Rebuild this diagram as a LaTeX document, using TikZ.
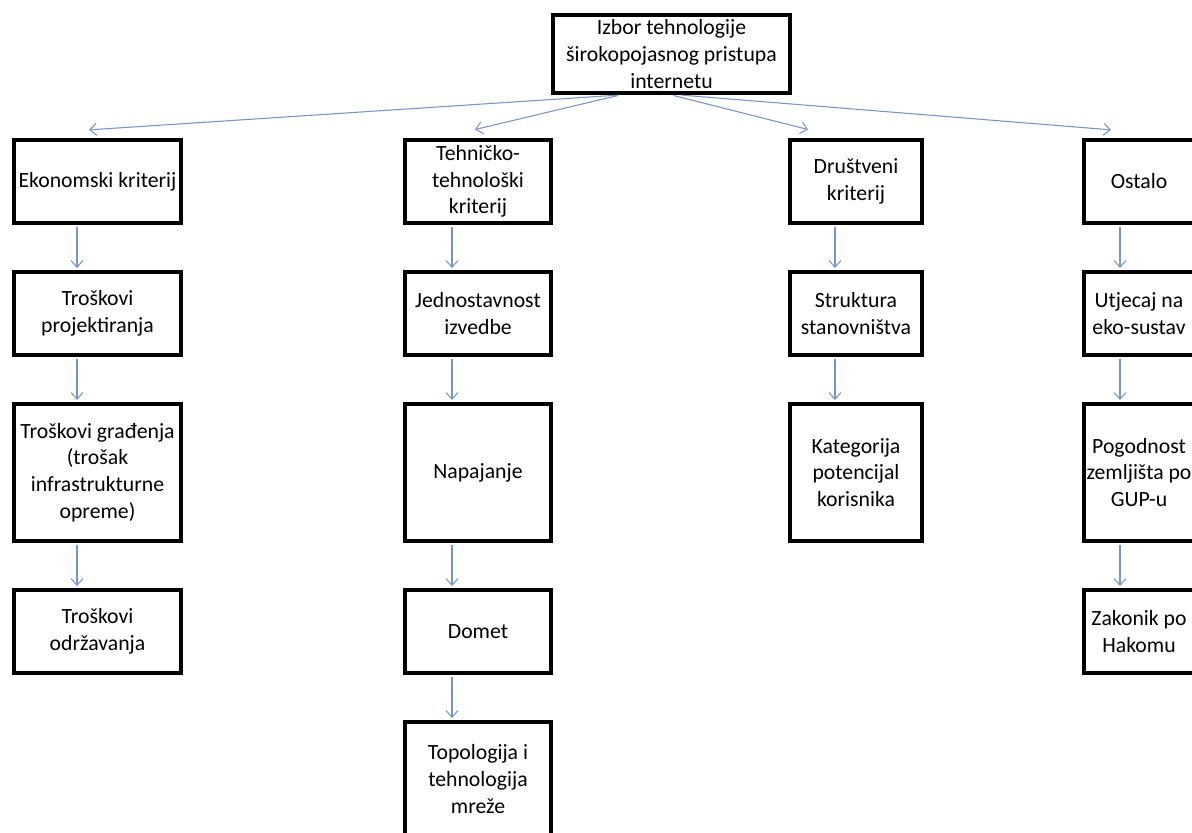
\documentclass[tikz,border=0pt]{standalone}
\usepackage{fontspec}
\setmainfont{Carlito}
\usetikzlibrary{arrows.meta}
\definecolor{linkblue}{RGB}{118,150,200}

\begin{document}
\begin{tikzpicture}[x=0.75pt, y=-0.75pt, >={Straight Barb[length=5pt,width=9pt]},
    box/.style={draw, line width=3pt, align=center, inner sep=1pt,
        font=\fontsize{16.3}{20}\selectfont},
    short/.style={box, minimum height=62.25pt},
    tall/.style={box, minimum height=102.75pt},
    link/.style={->, linkblue, line width=0.8pt, shorten <=1.5pt, shorten >=1.5pt}]
    \useasboundingbox (0,0) rectangle (1192,832);
    \clip (0,0) rectangle (1192,832);
    \fill[white] (0,0) rectangle (1192,832);

    % root of the tree
    \node[box, minimum width=177.75pt, minimum height=58.5pt] (root) at (671.5,54)
        {Izbor tehnologije\\širokopojasnog pristupa\\internetu};

    % economic column
    \node[short, minimum width=125.25pt] (ekon) at (97.5,181.5) {Ekonomski kriterij};
    \node[short, minimum width=125.25pt] (trpro) at (97.5,313.5) {Troškovi\\projektiranja};
    \node[tall, minimum width=125.25pt] (trgrad) at (97.5,472.5)
        {Troškovi građenja\\(trošak\\infrastrukturne\\opreme)};
    \node[short, minimum width=125.25pt] (trodr) at (97.5,631.5) {Troškovi\\održavanja};

    % technical column
    \node[short, minimum width=109.5pt] (teh) at (478,181.5) {Tehničko-\\tehnološki\\kriterij};
    \node[short, minimum width=109.5pt] (jedn) at (478,313.5) {Jednostavnost\\izvedbe};
    \node[tall, minimum width=109.5pt] (napaj) at (478,472.5) {Napajanje};
    \node[short, minimum width=109.5pt] (domet) at (478,631.5) {Domet};
    \node[box, minimum width=109.5pt, minimum height=85.5pt] (topo) at (478,779)
        {Topologija i\\tehnologija\\mreže};

    % social column
    \node[short, minimum width=99pt] (drus) at (856,181.5) {Društveni\\kriterij};
    \node[short, minimum width=99pt] (strukt) at (856,313.5) {Struktura\\stanovništva};
    \node[tall, minimum width=99pt] (kateg) at (856,472.5) {Kategorija\\potencijal\\korisnika};

    % other column
    \node[short, minimum width=82.5pt] (ostalo) at (1139,181.5) {Ostalo};
    \node[short, minimum width=82.5pt] (utjec) at (1139,313.5) {Utjecaj na\\eko-sustav};
    \node[tall, minimum width=82.5pt] (pogod) at (1139,472.5) {Pogodnost\\zemljišta po\\GUP-u};
    \node[short, minimum width=82.5pt] (zakon) at (1139,631.5) {Zakonik po\\Hakomu};

    % links from the root
    \draw[link] ([xshift=-38.6pt]root.south) -- ([xshift=-7.9pt,yshift=6pt]ekon.north);
    \draw[link] ([xshift=-38.6pt]root.south) -- ([xshift=-3.75pt,yshift=6pt]teh.north);
    \draw[link] (root.south) -- ([xshift=-34.5pt,yshift=6pt]drus.north);
    \draw[link] ([xshift=6.4pt]root.south) -- ([xshift=-19.5pt,yshift=6pt]ostalo.north);

    % links down the columns
    \draw[link] ([xshift=-15.4pt]ekon.south) -- ([xshift=-15.4pt]trpro.north);
    \draw[link] ([xshift=-15.4pt]trpro.south) -- ([xshift=-15.4pt]trgrad.north);
    \draw[link] ([xshift=-15.4pt]trgrad.south) -- ([xshift=-15.4pt]trodr.north);
    \draw[link] ([xshift=-19.5pt]teh.south) -- ([xshift=-19.5pt]jedn.north);
    \draw[link] ([xshift=-19.5pt]jedn.south) -- ([xshift=-19.5pt]napaj.north);
    \draw[link] ([xshift=-19.5pt]napaj.south) -- ([xshift=-19.5pt]domet.north);
    \draw[link] ([xshift=-19.5pt]domet.south) -- ([xshift=-19.5pt]topo.north);
    \draw[link] ([xshift=-15.75pt]drus.south) -- ([xshift=-15.75pt]strukt.north);
    \draw[link] ([xshift=-15.75pt]strukt.south) -- ([xshift=-15.75pt]kateg.north);
    \draw[link] ([xshift=-14.25pt]ostalo.south) -- ([xshift=-14.25pt]utjec.north);
    \draw[link] ([xshift=-14.25pt]utjec.south) -- ([xshift=-14.25pt]pogod.north);
    \draw[link] ([xshift=-14.25pt]pogod.south) -- ([xshift=-14.25pt]zakon.north);
\end{tikzpicture}
\end{document}
